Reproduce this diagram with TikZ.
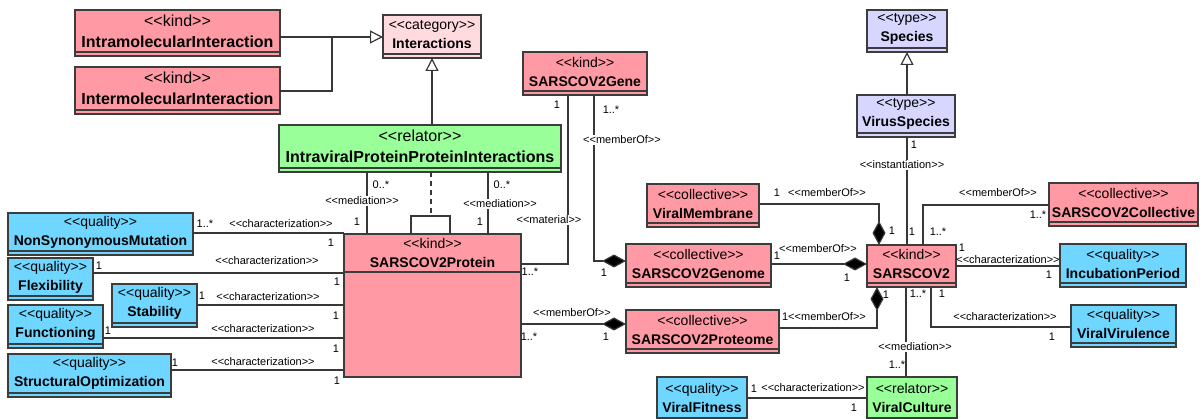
\documentclass[tikz,border=0pt]{standalone}
\usepackage{fontspec}
\setmainfont{Liberation Sans}[Ligatures=TeXOff]
\usetikzlibrary{arrows.meta,calc}
\definecolor{kindc}{RGB}{255,153,163}
\definecolor{catc}{RGB}{255,218,222}
\definecolor{relc}{RGB}{153,255,153}
\definecolor{qualc}{RGB}{110,214,255}
\definecolor{typec}{RGB}{214,214,255}
\definecolor{bordc}{RGB}{60,60,60}
\definecolor{linec}{RGB}{55,55,55}
\newcommand\bigf{\fontsize{16}{21}\selectfont}
\newcommand\normf{\fontsize{14}{19}\selectfont}
\newcommand\umlcls[9]{%
  \node[clsbox, fill=#2, minimum width={#5-#3}, minimum height={#6-#4}, anchor=north west] (#1) at (#3,#4) {};
  \draw[cline] ([yshift=4pt]#1.south west) -- ([yshift=4pt]#1.south east);
  \node[font=#7, align=center, inner sep=0pt] (#1-t) at ($(#1.north)!0.5!([yshift=4pt]#1.south)$) {#8\\\textbf{#9}};
}
\tikzset{
  clsbox/.style={draw=bordc, line width=1.3pt, inner sep=0pt, outer sep=0pt},
  cline/.style={draw=bordc, line width=1.3pt},
  conn/.style={draw=linec, line width=1.2pt},
  gen/.style={conn, -{Triangle[fill=white,length=13pt,width=13pt]}},
  comp/.style={conn, -{Diamond[fill=black,length=24pt,width=13pt]}},
  deriv/.style={conn, dash pattern=on 5pt off 4pt},
  lab/.style={font=\fontsize{11}{13}\selectfont, inner sep=0pt, text=black},
  slab/.style={lab, fill=white, inner sep=1pt},
}
\begin{document}
\begin{tikzpicture}[x=1pt,y=-1pt]
\useasboundingbox (0,0) rectangle (1200,419);
% classes
\umlcls{intra}{kindc}{75}{10}{280}{56}{\bigf}{<<kind>>}{IntramolecularInteraction}
\umlcls{inter}{kindc}{75}{67}{280}{114}{\bigf}{<<kind>>}{IntermolecularInteraction}
\umlcls{interactions}{catc}{383}{15}{481}{58}{\normf}{<<category>>}{Interactions}
\umlcls{ippi}{relc}{279}{125}{561}{172}{\bigf}{<<relator>>}{IntraviralProteinProteinInteractions}
\umlcls{gene}{kindc}{523}{52}{647}{95}{\normf}{<<kind>>}{SARSCOV2Gene}
\umlcls{genome}{kindc}{626}{244}{771}{287}{\normf}{<<collective>>}{SARSCOV2Genome}
\umlcls{proteome}{kindc}{626}{310}{779}{353}{\normf}{<<collective>>}{SARSCOV2Proteome}
\umlcls{membrane}{kindc}{647}{184}{759}{227}{\normf}{<<collective>>}{ViralMembrane}
\umlcls{sars}{kindc}{867}{245}{956}{287}{\normf}{<<kind>>}{SARSCOV2}
\umlcls{coll}{kindc}{1049}{183}{1198}{226}{\normf}{<<collective>>}{SARSCOV2Collective}
\umlcls{species}{typec}{867}{10}{947}{52}{\normf}{<<type>>}{Species}
\umlcls{virus}{typec}{857}{95}{955}{137}{\normf}{<<type>>}{VirusSpecies}
\umlcls{incub}{qualc}{1060}{244}{1186}{287}{\normf}{<<quality>>}{IncubationPeriod}
\umlcls{viru}{qualc}{1071}{305}{1176}{347}{\normf}{<<quality>>}{ViralVirulence}
\umlcls{culture}{relc}{867}{377}{957}{422}{\normf}{<<relator>>}{ViralCulture}
\umlcls{fitness}{qualc}{657}{377}{747}{422}{\normf}{<<quality>>}{ViralFitness}
\umlcls{nsm}{qualc}{8}{213}{193}{255}{\normf}{<<quality>>}{NonSynonymousMutation}
\umlcls{flex}{qualc}{8}{258}{93}{300}{\normf}{<<quality>>}{Flexibility}
\umlcls{stab}{qualc}{112}{284}{197}{327}{\normf}{<<quality>>}{Stability}
\umlcls{func}{qualc}{8}{305}{103}{348}{\normf}{<<quality>>}{Functioning}
\umlcls{struct}{qualc}{8}{354}{171}{397}{\normf}{<<quality>>}{StructuralOptimization}
% protein
\node[clsbox, fill=kindc, minimum width=177pt, minimum height=143pt, anchor=north west] (prot) at (344,234) {};
\draw[cline] (prot.west |- 0,272) -- (prot.east |- 0,272);
\node[font=\normf, align=center, inner sep=0pt] (prot-t) at (432.5,253) {<<kind>>\\\textbf{SARSCOV2Protein}};
% generalizations
\draw[gen] (intra.east |- 0,37) -- (interactions.west |- 0,37);
\coordinate (gj) at (332,37);
\draw[conn] (inter.east |- 0,91) -| (gj);
\draw[gen] (ippi.north -| 432,0) -- (interactions.south -| 432,0);
\draw[gen] (virus.north -| 907,0) -- (species.south -| 907,0);
% mediations
\draw[conn] (ippi.south -| 367,0) -- (prot.north -| 367,0);
\draw[conn] (ippi.south -| 488,0) -- (prot.north -| 488,0);
\coordinate (loop) at (431,216);
\draw[deriv] (ippi.south -| 431,0) -- (loop);
\draw[conn] (prot.north -| 411,0) |- (loop) -| (prot.north -| 450,0);
% gene
\draw[conn] (gene.south -| 568,0) |- (prot.east |- 0,264);
\draw[comp] (gene.south -| 594,0) |- (genome.west |- 0,261);
\draw[comp] (prot.east |- 0,324) -- (proteome.west |- 0,324);
% sars memberships
\draw[comp] (membrane.east |- 0,204) -| (sars.north -| 879,0);
\draw[comp] (genome.east |- 0,264) -- (sars.west |- 0,264);
\draw[comp] (proteome.east |- 0,328) -| (sars.south -| 877,0);
\draw[conn] (sars.north -| 923,0) |- (coll.west |- 0,205);
\draw[conn] (virus.south -| 907,0) -- (sars.north -| 907,0);
\draw[conn] (sars.east |- 0,266) -- (incub.west |- 0,266);
\draw[conn] (sars.south -| 931,0) |- (viru.west |- 0,327);
\draw[conn] (sars.south -| 906,0) -- (culture.north -| 906,0);
\draw[conn] (fitness.east |- 0,398) -- (culture.west |- 0,398);
% left qualities
\draw[conn] (nsm.east |- 0,233) -- (prot.west |- 0,233);
\draw[conn] (flex.east |- 0,273) -- (prot.west |- 0,273);
\draw[conn] (stab.east |- 0,305) -- (prot.west |- 0,305);
\draw[conn] (func.east |- 0,338) -- (prot.west |- 0,338);
\draw[conn] (struct.east |- 0,370) -- (prot.west |- 0,370);
% labels
\node[lab] (a1) at (381,185) {0..*};
\node[slab] (a2) at (362,201) {<<mediation>>};
\node[lab] (a3) at (357,222) {1};
\node[lab] (b1) at (502,185) {0..*};
\node[slab] (b2) at (500,204) {<<mediation>>};
\node[lab] (b3) at (480,222) {1};
\node[lab] (c1) at (557,105) {1};
\node[slab] (c2) at (549,220) {<<material>>};
\node[lab] (c3) at (530,272) {1..*};
\node[lab] (d1) at (611,110) {1..*};
\node[slab] (d2) at (622,140) {<<memberOf>>};
\node[lab] (d3) at (604,273) {1};
\node[lab] (e1) at (572,313) {<<memberOf>>};
\node[lab] (e2) at (529,337) {1..*};
\node[lab] (e3) at (606,337) {1};
\node[lab] (f1) at (777,193) {1};
\node[lab] (f2) at (827,193) {<<memberOf>>};
\node[lab] (f3) at (892,231) {1};
\node[lab] (g1) at (777,256) {1};
\node[lab] (g2) at (818,249) {<<memberOf>>};
\node[lab] (g3) at (847,278) {1};
\node[lab] (h1) at (824,317) {1<<memberOf>>};
\node[lab] (h2) at (886,295) {1};
\node[lab] (i1) at (998,193) {<<memberOf>>};
\node[lab] (i2) at (1038,215) {1..*};
\node[lab] (i3) at (938,232) {1..*};
\node[lab] (j1) at (914,145) {1};
\node[slab] (j2) at (902,165) {<<instantiation>>};
\node[lab] (j3) at (912,232) {1};
\node[lab] (k1) at (962,248) {1};
\node[lab] (k2) at (1008,260) {<<characterization>>};
\node[lab] (k3) at (1049,275) {1};
\node[lab] (l1) at (942,294) {1};
\node[lab] (l2) at (1005,317) {<<characterization>>};
\node[lab] (l3) at (1052,337) {1};
\node[lab] (n1) at (918,294) {1..*};
\node[slab] (n2) at (915,347) {<<mediation>>};
\node[lab] (n3) at (897,365) {1..*};
\node[lab] (o1) at (754,389) {1};
\node[lab] (o2) at (813,388) {<<characterization>>};
\node[lab] (o3) at (854,408) {1};
\node[lab] (p1) at (205,224) {1..*};
\node[lab] (p2) at (281,224) {<<characterization>>};
\node[lab] (p3) at (331,243) {1};
\node[lab] (q1) at (99,266) {1};
\node[lab] (q2) at (267,261) {<<characterization>>};
\node[lab] (q3) at (337,282) {1};
\node[lab] (r1) at (202,296) {1};
\node[lab] (r2) at (268,297) {<<characterization>>};
\node[lab] (r3) at (336,316) {1};
\node[lab] (s1) at (108,331) {1};
\node[lab] (s2) at (263,329) {<<characterization>>};
\node[lab] (s3) at (336,349) {1};
\node[lab] (t1) at (175,363) {1};
\node[lab] (t2) at (263,362) {<<characterization>>};
\node[lab] (t3) at (337,381) {1};
\end{tikzpicture}
\end{document}
